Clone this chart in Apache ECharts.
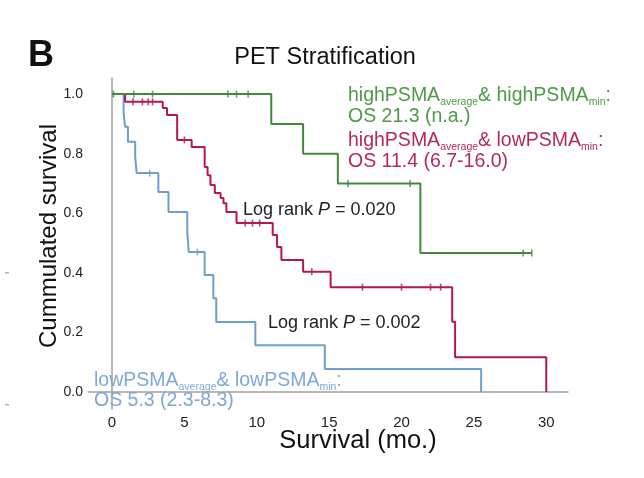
<!DOCTYPE html>
<html><head><meta charset="utf-8">
<script src="https://cdn.jsdelivr.net/npm/echarts@6/dist/echarts.min.js"></script>
<style>html,body{margin:0;padding:0;background:#fff}#c{width:644px;height:478px}</style>
</head><body><div id="c"></div>
<script>
// ---- data ----
const xTicks = [0, 5, 10, 15, 20, 25, 30];
const yTicks = [0, 0.2, 0.4, 0.6, 0.8, 1.0];

// highPSMA_average & highPSMA_min (green)
const greenTimes = [0, 11.0, 13.2, 15.6, 21.3, 29.0];
const greenSurv  = [1, 0.9, 0.8, 0.7, 0.467, 0.467];
const greenCensorT = [0.1, 1.5, 2.8, 8.0, 8.6, 9.4, 16.3, 20.6, 28.4, 29.0];
const greenCensorS = [1, 1, 1, 1, 1, 1, 0.7, 0.7, 0.467, 0.467];

// highPSMA_average & lowPSMA_min (red)
const redTimes = [0, 0.9, 3.5, 3.8, 4.5, 5.5, 6.4, 6.6, 6.8, 7.1, 7.5, 7.7, 7.9, 8.6, 11.1, 11.4, 11.7, 13.2, 15.1, 23.5, 23.7, 30.0];
const redSurv  = [1, 0.974, 0.953, 0.93, 0.846, 0.822, 0.755, 0.728, 0.695, 0.668, 0.651, 0.634, 0.604, 0.567, 0.527, 0.487, 0.443, 0.404, 0.352, 0.236, 0.117, 0];
const redCensorT = [1.45, 2.1, 2.5, 2.8, 5.0, 9.2, 9.7, 10.2, 13.8, 17.3, 20.0, 22.0, 22.7];
const redCensorS = [0.974, 0.974, 0.974, 0.974, 0.846, 0.567, 0.567, 0.567, 0.404, 0.352, 0.352, 0.352, 0.352];

// lowPSMA_average & lowPSMA_min (blue)
const blueTimes = [0, 0.8, 0.9, 1.1, 1.6, 1.7, 3.2, 3.9, 5.2, 5.3, 6.4, 7.0, 7.2, 9.9, 14.7, 25.5];
const blueSurv  = [1, 0.936, 0.89, 0.84, 0.79, 0.735, 0.671, 0.604, 0.534, 0.47, 0.393, 0.315, 0.235, 0.157, 0.077, 0];
const blueCensorT = [2.6, 5.9];
const blueCensorS = [0.735, 0.47];

// ---- chart ----
const GREEN = '#42893d', RED = '#b3194c', BLUE = '#6f9dd0';
const GREEN_T = '#4f9a47', RED_T = '#b42a5a', BLUE_T = '#7ea8d8';
const FONT = '"Liberation Sans", Arial, Helvetica, sans-serif';

const pairs = (a, b) => a.map((t, i) => [t, b[i]]);
const curve = (name, t, s, color) => ({
  name, type: 'line', step: 'end', data: pairs(t, s), showSymbol: false,
  lineStyle: { color, width: 2 }, itemStyle: { color }, animation: false, z: 3
});
const cens = (name, t, s, color) => ({
  name: name + ' censored', type: 'scatter', data: pairs(t, s), symbol: 'rect',
  symbolSize: [1.6, 7], itemStyle: { color }, animation: false, z: 4
});

const sub = { fontSize: 10.5, lineHeight: 10, padding: [13, 0, 0, 0] };
function richLine(x, y, parts, color) {
  const rich = {
    m: { fontSize: 19.5, lineHeight: 20, fill: color, fontFamily: FONT },
    s: Object.assign({ fill: color, fontFamily: FONT }, sub)
  };
  const text = parts.map(p => '{' + p[0] + '|' + p[1] + '}').join('');
  return { type: 'text', x, y, style: { text, rich, align: 'left', verticalAlign: 'top', fontFamily: FONT } };
}
function plain(x, y, text, size, color, extra) {
  return { type: 'text', x, y, style: Object.assign({ text, fontSize: size, fill: color, fontFamily: FONT, align: 'left', verticalAlign: 'middle' }, extra || {}) };
}
function logRank(x, y, val) {
  return { type: 'text', x, y, style: {
    text: '{a|Log rank }{i|P}{a| = ' + val + '}', align: 'left', verticalAlign: 'middle',
    rich: { a: { fontSize: 18, fill: '#222', fontFamily: FONT }, i: { fontSize: 18, fill: '#222', fontStyle: 'italic', fontFamily: FONT } }
  } };
}

const chart = echarts.init(document.getElementById('c'), null, { renderer: 'canvas' });
chart.setOption({
  animation: false,
  backgroundColor: '#fff',
  grid: { left: 88, right: 76, top: 78, bottom: 69, containLabel: false },
  xAxis: {
    type: 'value', min: -1.66, max: 31.5,
    axisLine: { show: true, lineStyle: { color: '#a0a0a0', width: 1.5 } },
    axisTick: { show: false }, splitLine: { show: false },
    axisLabel: { customValues: xTicks, fontSize: 15, color: '#222', margin: 6, fontFamily: FONT }
  },
  yAxis: {
    type: 'value', min: -0.057, max: 1.054,
    axisLine: { show: true, lineStyle: { color: '#a0a0a0', width: 1.5 } },
    axisTick: { show: false }, splitLine: { show: false },
    axisLabel: { customValues: yTicks, fontSize: 14, color: '#222', margin: 5, fontFamily: FONT,
      formatter: v => v.toFixed(1) }
  },
  series: [
    curve('lowPSMA', blueTimes, blueSurv, BLUE),
    cens('lowPSMA', blueCensorT, blueCensorS, BLUE),
    curve('highavg lowmin', redTimes, redSurv, RED),
    cens('highavg lowmin', redCensorT, redCensorS, RED),
    curve('highPSMA', greenTimes, greenSurv, GREEN),
    cens('highPSMA', greenCensorT, greenCensorS, GREEN)
  ],
  graphic: [
    plain(28, 56, 'B', 36, '#111', { fontWeight: 'bold' }),
    plain(325, 58, 'PET Stratification', 23.5, '#111', { align: 'center' }),
    plain(358, 441, 'Survival (mo.)', 25.5, '#111', { align: 'center' }),
    { type: 'text', x: 49, y: 236, rotation: Math.PI / 2,
      style: { text: 'Cummulated survival', fontSize: 24, fill: '#111', fontFamily: FONT, align: 'center', verticalAlign: 'middle' } },
    richLine(348, 86, [['m', 'highPSMA'], ['s', 'average'], ['m', '& highPSMA'], ['s', 'min'], ['m', ':']], GREEN_T),
    plain(348, 117, 'OS 21.3 (n.a.)', 19.5, GREEN_T),
    richLine(348, 131, [['m', 'highPSMA'], ['s', 'average'], ['m', '& lowPSMA'], ['s', 'min'], ['m', ':']], RED_T),
    plain(348, 162, 'OS 11.4 (6.7-16.0)', 19.5, RED_T),
    richLine(94, 371, [['m', 'lowPSMA'], ['s', 'average'], ['m', '& lowPSMA'], ['s', 'min'], ['m', ':']], BLUE_T),
    plain(94, 401, 'OS 5.3 (2.3-8.3)', 19.5, BLUE_T),
    logRank(243, 210, '0.020'),
    logRank(268, 323, '0.002'),
    { type: 'rect', shape: { x: 5, y: 272, width: 4, height: 1.5 }, style: { fill: '#b0b0b0' } },
    { type: 'rect', shape: { x: 5, y: 404, width: 4, height: 1.5 }, style: { fill: '#b0b0b0' } }
  ]
});
</script></body></html>
